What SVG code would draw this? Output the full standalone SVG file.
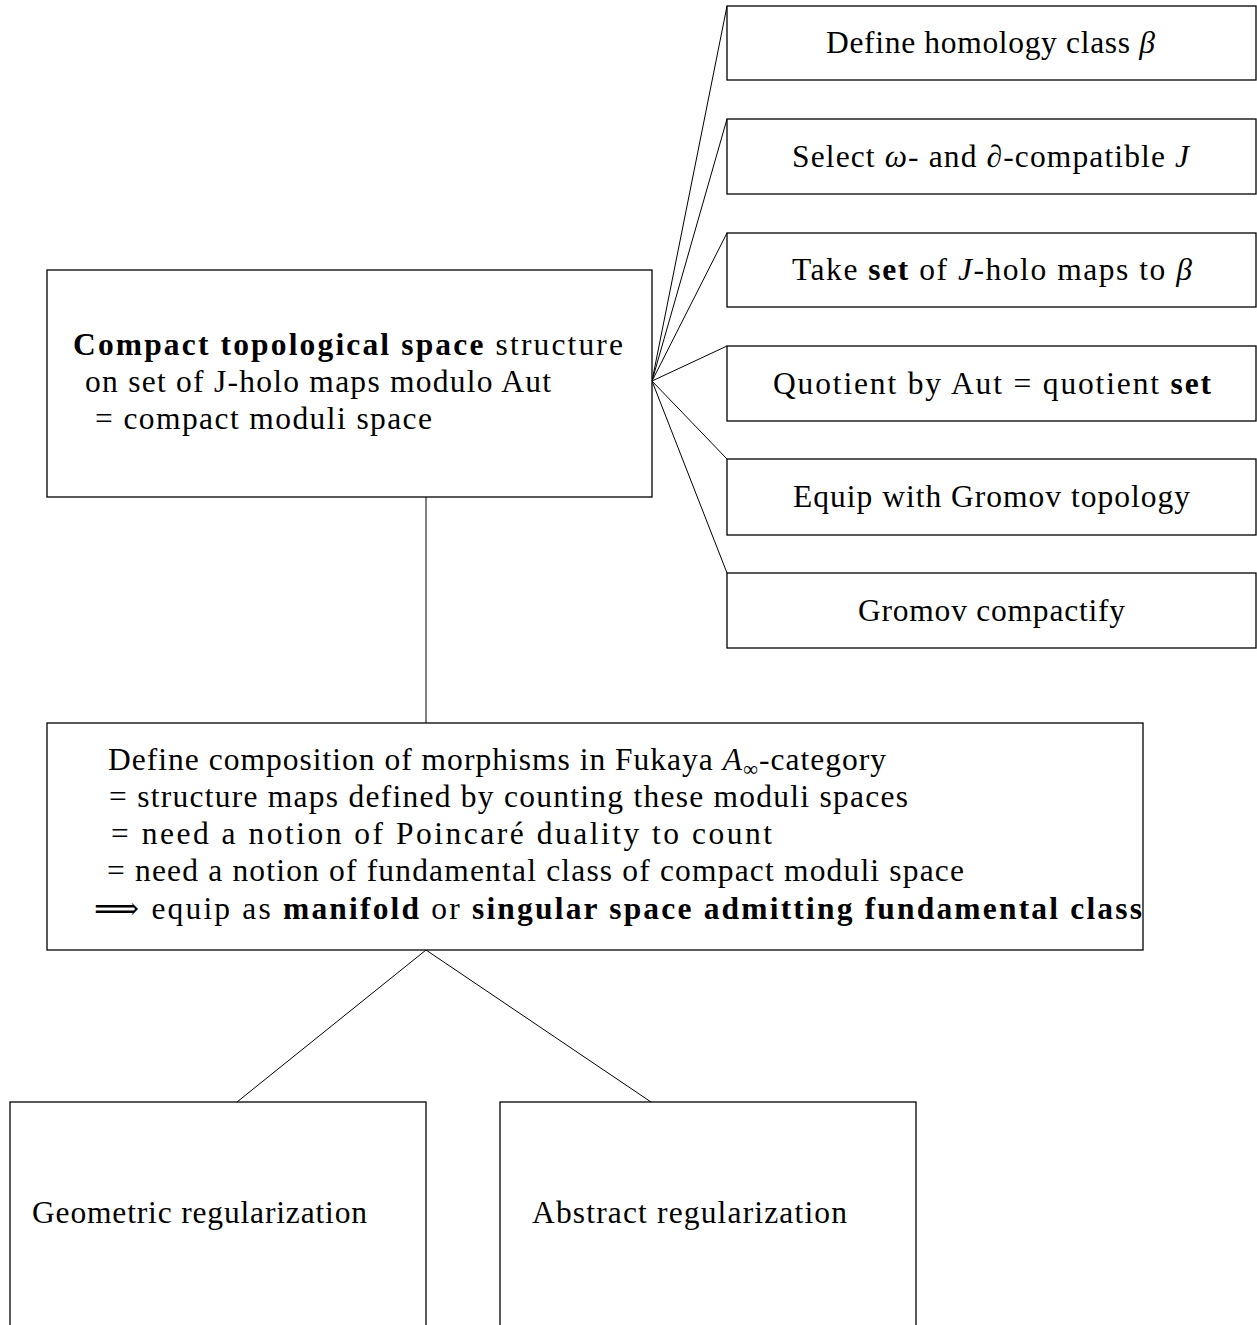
<svg xmlns="http://www.w3.org/2000/svg" width="1257" height="1325" viewBox="0 0 1257 1325">
<style>
.box{fill:#fff;stroke:#000;stroke-width:1.3}
.ln{stroke:#000;stroke-width:1;fill:none}
text{font-family:"Liberation Serif","DejaVu Serif",serif;font-size:31.5px;fill:#000}
.b{font-weight:bold}
.i{font-style:italic}
</style>
<rect x="0" y="0" width="1257" height="1325" fill="#fff"/>
<g id="connectors">
<line class="ln" x1="652" y1="381" x2="727" y2="6"/>
<line class="ln" x1="652" y1="381" x2="727" y2="119"/>
<line class="ln" x1="652" y1="381" x2="727" y2="233"/>
<line class="ln" x1="652" y1="381" x2="727" y2="346"/>
<line class="ln" x1="652" y1="381" x2="727" y2="459"/>
<line class="ln" x1="652" y1="381" x2="727" y2="573"/>
<line class="ln" x1="426" y1="497" x2="426" y2="723"/>
<line class="ln" x1="426" y1="950" x2="237" y2="1102"/>
<line class="ln" x1="426" y1="950" x2="651" y2="1102"/>
</g>
<g id="n_homology">
<rect class="box" x="727" y="6" width="529" height="74"/>
<text x="826" y="53" textLength="329">Define homology class <tspan class="i">β</tspan></text>
</g>
<g id="n_select">
<rect class="box" x="727" y="119" width="529" height="75"/>
<text x="792" y="167" textLength="397">Select <tspan class="i">ω</tspan>- and <tspan class="i">∂</tspan>-compatible <tspan class="i">J</tspan></text>
</g>
<g id="n_take">
<rect class="box" x="727" y="233" width="529" height="74"/>
<text x="792" y="280" textLength="400">Take <tspan class="b">set</tspan> of <tspan class="i">J</tspan>-holo maps to <tspan class="i">β</tspan></text>
</g>
<g id="n_quotient">
<rect class="box" x="727" y="346" width="529" height="75"/>
<text x="773" y="394" textLength="438">Quotient by Aut = quotient <tspan class="b">set</tspan></text>
</g>
<g id="n_equip">
<rect class="box" x="727" y="459" width="529" height="76"/>
<text x="793" y="507" textLength="397">Equip with Gromov topology</text>
</g>
<g id="n_compactify">
<rect class="box" x="727" y="573" width="529" height="75"/>
<text x="858" y="621" textLength="267">Gromov compactify</text>
</g>
<g id="n_compact">
<rect class="box" x="47" y="270" width="605" height="227"/>
<text x="73" y="355" textLength="550"><tspan class="b">Compact topological space</tspan> structure</text>
<text x="85" y="392" textLength="466">on set of J-holo maps modulo Aut</text>
<text x="95" y="429" textLength="337">= compact moduli space</text>
</g>
<g id="n_fukaya">
<rect class="box" x="47" y="723" width="1096" height="227"/>
<text x="108" y="770" textLength="778">Define composition of morphisms in Fukaya <tspan class="i">A</tspan><tspan font-size="21" dy="6">∞</tspan><tspan dy="-6">-category</tspan></text>
<text x="109" y="807" textLength="799">= structure maps defined by counting these moduli spaces</text>
<text x="111" y="844" textLength="661">= need a notion of Poincaré duality to count</text>
<text x="107" y="881" textLength="857">= need a notion of fundamental class of compact moduli space</text>
<text x="94" y="919" textLength="1048">⟹  equip as <tspan class="b">manifold</tspan> or <tspan class="b">singular space admitting fundamental class</tspan></text>
</g>
<g id="n_geometric">
<rect class="box" x="10" y="1102" width="416" height="300"/>
<text x="32" y="1223" textLength="335">Geometric regularization</text>
</g>
<g id="n_abstract">
<rect class="box" x="500" y="1102" width="416" height="300"/>
<text x="532" y="1223" textLength="315">Abstract regularization</text>
</g>
</svg>
